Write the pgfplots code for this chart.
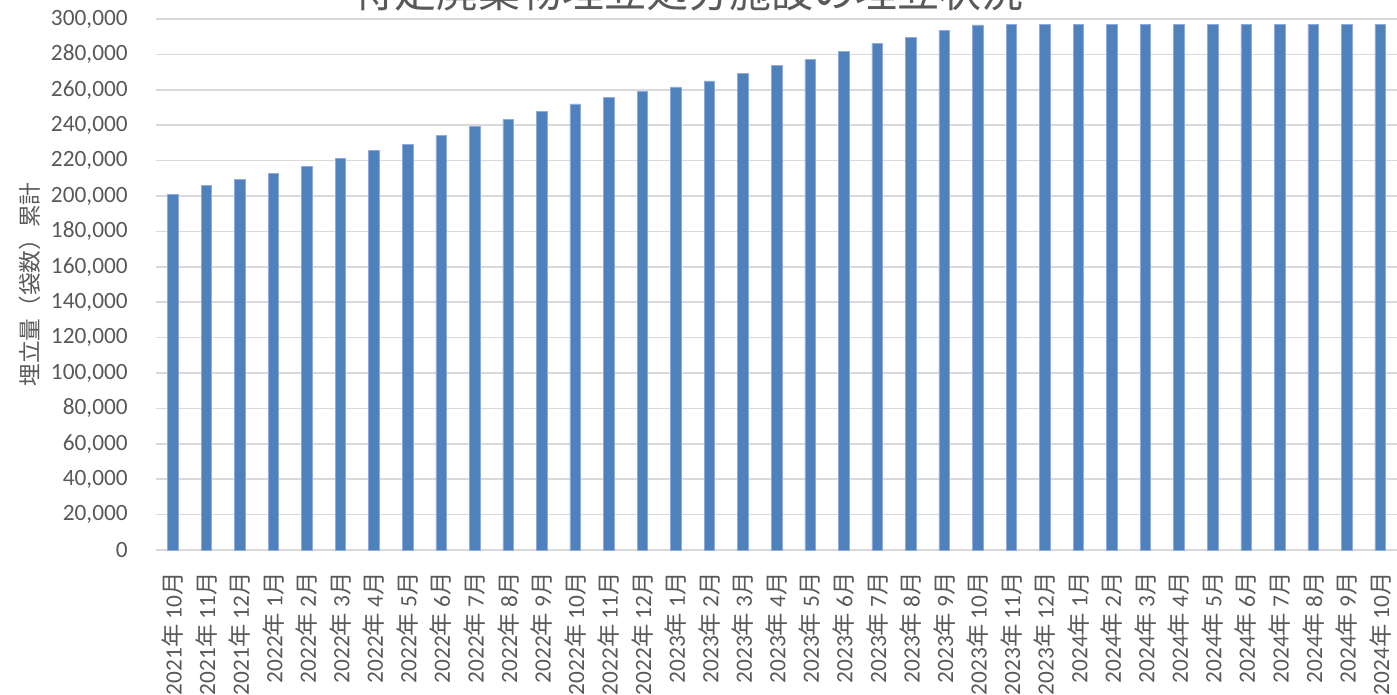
\documentclass[border=0pt]{standalone}
\usepackage{fontspec}
\setmainfont{Carlito}
\newfontfamily\cjk{Noto Sans CJK JP}
\usepackage{pgfplots}
\pgfplotsset{compat=1.18}
\usepackage{pgfplotstable}
\definecolor{barblue}{HTML}{4F81BD}
\definecolor{baredge}{HTML}{8FAADC}
\definecolor{txtgray}{HTML}{595959}
\definecolor{gridgray}{HTML}{D9D9D9}
\newcommand\ym[2]{#1{\cjk 年} #2{\cjk 月}}

% cumulative landfill (bags), 2021-10 .. 2024-10
\pgfplotstableread{
idx val
0 201000
1 205900
2 209200
3 212800
4 216700
5 221200
6 225600
7 229200
8 234300
9 239300
10 243200
11 247700
12 252100
13 255700
14 259100
15 261700
16 265100
17 269400
18 273600
19 277200
20 281700
21 286400
22 289800
23 293400
24 296700
25 296800
26 296800
27 296800
28 296800
29 296800
30 296800
31 296800
32 297100
33 297100
34 297100
35 297100
36 297100
}\landfill

\begin{document}
\begin{tikzpicture}
\begin{axis}[
  scale only axis,
  width=930.75pt, height=398.25pt,
  xmin=-0.5, xmax=36.5,
  ymin=0, ymax=300000,
  ytick={0,20000,...,300000},
  scaled y ticks=false,
  xtick={0,...,36},
  xticklabels={\ym{2021}{10},\ym{2021}{11},\ym{2021}{12},
    \ym{2022}{1},\ym{2022}{2},\ym{2022}{3},\ym{2022}{4},\ym{2022}{5},\ym{2022}{6},
    \ym{2022}{7},\ym{2022}{8},\ym{2022}{9},\ym{2022}{10},\ym{2022}{11},\ym{2022}{12},
    \ym{2023}{1},\ym{2023}{2},\ym{2023}{3},\ym{2023}{4},\ym{2023}{5},\ym{2023}{6},
    \ym{2023}{7},\ym{2023}{8},\ym{2023}{9},\ym{2023}{10},\ym{2023}{11},\ym{2023}{12},
    \ym{2024}{1},\ym{2024}{2},\ym{2024}{3},\ym{2024}{4},\ym{2024}{5},\ym{2024}{6},
    \ym{2024}{7},\ym{2024}{8},\ym{2024}{9},\ym{2024}{10}},
  axis line style={draw=none},
  tick style={draw=none},
  ymajorgrids,
  grid style={gridgray, line width=1.1pt},
  tick label style={font=\fontsize{17.5}{20}\selectfont, text=txtgray},
  yticklabel style={inner sep=0pt,
    /pgf/number format/fixed,
    /pgf/number format/1000 sep={,},
    /pgf/number format/assume math mode=true},
  yticklabel shift=21pt,
  xticklabel style={rotate=90, anchor=east, inner sep=0pt},
  xticklabel shift=16.5pt,
  ylabel={埋立量（袋数）累計},
  ylabel style={font=\cjk\fontsize{17}{20}\selectfont, text=txtgray,
    at={(axis description cs:0,0.5)}, anchor=center, yshift=94.5pt},
]
\addplot[ybar, bar width=7.9pt, fill=barblue, draw=baredge, line width=0.4pt]
  table[x=idx, y=val] {\landfill};
\end{axis}
\node[anchor=base, font=\cjk\fontsize{31.5}{36}\selectfont, text=txtgray]
  at (399pt,407pt) {特定廃棄物埋立処分施設の埋立状況};
\pgfresetboundingbox
\useasboundingbox (-117pt,-108pt) rectangle (930.75pt,412.5pt);
\end{tikzpicture}
\end{document}
